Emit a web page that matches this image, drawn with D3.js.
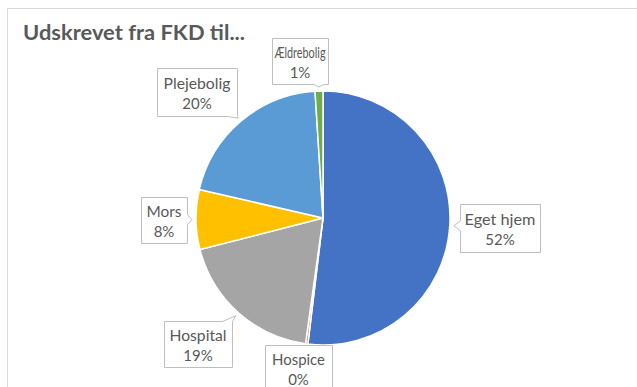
<!DOCTYPE html>
<html>
<head>
<meta charset="utf-8">
<script src="https://cdn.jsdelivr.net/npm/d3@7"></script>
<style>
html,body{margin:0;padding:0;background:#fff;}
svg{display:block;}
</style>
</head>
<body>
<svg id="chart" width="637" height="387"></svg>
<script>
// ---- data ----
const title = "Udskrevet fra FKD til...";
const categories = ["Eget hjem", "Hospice", "Hospital", "Mors", "Plejebolig", "Ældrebolig"];
const values = [51.9, 0.3, 18.8, 7.6, 20.4, 1.0];
const colors = ["#4472C4", "#ED7D31", "#A5A5A5", "#FFC000", "#5B9BD5", "#70AD47"];

// ---- layout (label callout boxes: center x, center y, width, height, name text width) ----
const labelBoxes = [
  {cx: 500, cy: 228, w: 80, h: 48, tw: 71},
  {cx: 298.5, cy: 368, w: 67, h: 46, tw: 53},
  {cx: 198, cy: 344, w: 68, h: 46, tw: 57},
  {cx: 164, cy: 220, w: 46, h: 46, tw: 35},
  {cx: 197, cy: 92, w: 80, h: 48, tw: 67},
  {cx: 300, cy: 61, w: 56, h: 46, tw: 51}
];

const W = 637, H = 387;
const cx = 323, cy = 218, R = 127;
const svg = d3.select("#chart");

// chart area border
svg.append("rect").attr("x", 7.5).attr("y", 8.5).attr("width", W + 10).attr("height", H + 10)
  .attr("fill", "#fff").attr("stroke", "#d9d9d9").attr("stroke-width", 1);

svg.append("text").attr("x", 23).attr("y", 40)
  .attr("font-family", "Lato, 'Open Sans', sans-serif").attr("font-weight", "bold")
  .attr("font-size", 20).attr("fill", "#595959")
  .attr("textLength", 222).attr("lengthAdjust", "spacingAndGlyphs")
  .text(title);

const data = categories.map((c, i) => ({name: c, value: values[i], color: colors[i], box: labelBoxes[i]}));
const pie = d3.pie().sort(null).value(d => d.value);
const arcs = pie(data);
const arc = d3.arc().innerRadius(0).outerRadius(R);

const g = svg.append("g").attr("transform", `translate(${cx},${cy})`);
g.selectAll("path").data(arcs).join("path")
  .attr("d", arc).attr("fill", d => d.data.color)
  .attr("stroke", "#fff").attr("stroke-width", 1.5).attr("stroke-linejoin", "round");

function calloutPath(x0, y0, x1, y1, tx, ty) {
  const hw = 5;
  let side = null;
  const dl = x0 - tx, dr = tx - x1, dt = y0 - ty, db = ty - y1;
  const m = Math.max(dl, dr, dt, db);
  if (m > 0) side = m === dl ? "l" : m === dr ? "r" : m === dt ? "t" : "b";
  const cl = (v, a, b) => Math.max(a + hw, Math.min(b - hw, v));
  let p = `M${x0},${y0}`;
  if (side === "t") { const c = cl(tx, x0, x1); p += `L${c - hw},${y0}L${tx},${ty}L${c + hw},${y0}`; }
  p += `L${x1},${y0}`;
  if (side === "r") { const c = cl(ty, y0, y1); p += `L${x1},${c - hw}L${tx},${ty}L${x1},${c + hw}`; }
  p += `L${x1},${y1}`;
  if (side === "b") { const c = cl(tx, x0, x1); p += `L${c + hw},${y1}L${tx},${ty}L${c - hw},${y1}`; }
  p += `L${x0},${y1}`;
  if (side === "l") { const c = cl(ty, y0, y1); p += `L${x0},${c + hw}L${tx},${ty}L${x0},${c - hw}`; }
  return p + "Z";
}

const total = d3.sum(values);
const labels = svg.append("g");
arcs.forEach(a => {
  const b = a.data.box;
  const mid = (a.startAngle + a.endAngle) / 2;
  const tx = cx + (R + 4) * Math.sin(mid), ty = cy - (R + 4) * Math.cos(mid);
  const x0 = Math.round(b.cx - b.w / 2) + 0.5, x1 = Math.round(b.cx + b.w / 2) + 0.5;
  const y0 = Math.round(b.cy - b.h / 2) + 0.5, y1 = Math.round(b.cy + b.h / 2) + 0.5;
  labels.append("path").attr("d", calloutPath(x0, y0, x1, y1, tx, ty))
    .attr("fill", "#fff").attr("stroke", "#bfbfbf").attr("stroke-width", 1);
  const t = labels.append("text").attr("text-anchor", "middle")
    .attr("font-family", "Lato, 'Open Sans', sans-serif").attr("font-size", 15).attr("fill", "#595959");
  t.append("tspan").attr("x", b.cx).attr("y", b.cy - 3)
    .attr("textLength", b.tw).attr("lengthAdjust", "spacingAndGlyphs").text(a.data.name);
  t.append("tspan").attr("x", b.cx).attr("y", b.cy + 17)
    .text(Math.round(a.data.value / total * 100) + "%");
});
</script>
</body>
</html>
